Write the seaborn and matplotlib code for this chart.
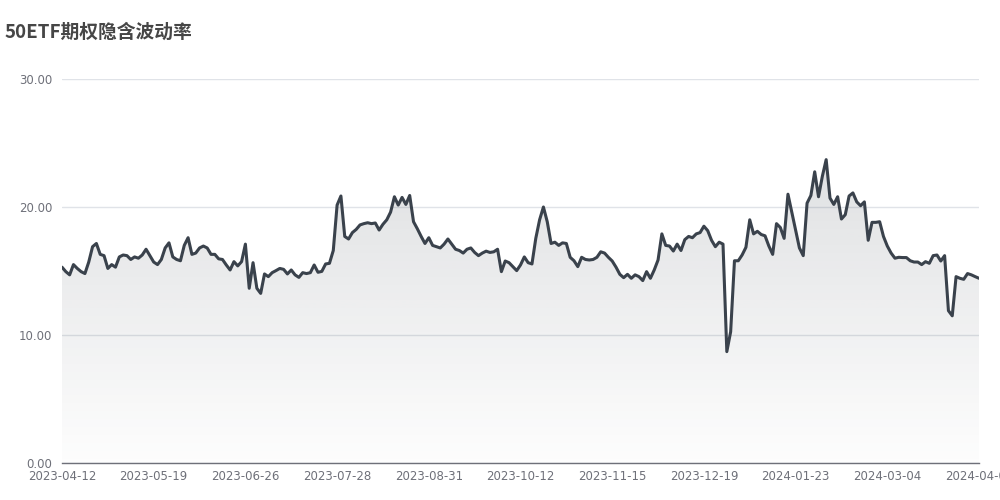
import numpy as np
import seaborn as sns
from matplotlib import pyplot as plt

# 50ETF 期权隐含波动率 (每个交易日一个点, 读自原图)
iv_values = [
    15.3, 14.95, 14.7, 15.5, 15.2, 14.95, 14.8, 15.7, 16.9, 17.15,
    16.3, 16.2, 15.2, 15.5, 15.3, 16.1, 16.25, 16.2, 15.9, 16.1,
    16.0, 16.25, 16.7, 16.2, 15.7, 15.5, 15.9, 16.8, 17.2, 16.1,
    15.9, 15.8, 17.0, 17.6, 16.3, 16.4, 16.8, 16.95, 16.8, 16.3,
    16.3, 15.95, 15.9, 15.47, 15.08, 15.73, 15.4, 15.73, 17.1, 13.65,
    15.65, 13.65, 13.25, 14.77, 14.56, 14.87, 15.03, 15.2, 15.13, 14.77,
    15.08, 14.7, 14.5, 14.87, 14.8, 14.87, 15.47, 14.9, 14.97, 15.55,
    15.6, 16.6, 20.15, 20.86, 17.7, 17.5, 18.0, 18.25, 18.6, 18.7,
    18.77, 18.7, 18.75, 18.2, 18.65, 19.0, 19.6, 20.8, 20.15, 20.75,
    20.2, 20.9, 18.85, 18.3, 17.7, 17.15, 17.6, 17.0, 16.9, 16.8,
    17.1, 17.5, 17.1, 16.7, 16.6, 16.4, 16.7, 16.8, 16.45, 16.2,
    16.4, 16.55, 16.45, 16.5, 16.7, 14.95, 15.78, 15.65, 15.34, 15.03,
    15.47, 16.1, 15.65, 15.55, 17.55, 19.0, 20.0, 18.85, 17.15, 17.25,
    17.0, 17.2, 17.15, 16.07, 15.8, 15.34, 16.07, 15.9, 15.86, 15.9,
    16.07, 16.5, 16.4, 16.07, 15.78, 15.3, 14.74, 14.48, 14.74, 14.43,
    14.7, 14.56, 14.25, 14.95, 14.43, 15.08, 15.86, 17.9, 17.0, 16.95,
    16.56, 17.1, 16.6, 17.45, 17.7, 17.6, 17.9, 18.0, 18.5, 18.15,
    17.4, 16.9, 17.25, 17.1, 8.7, 10.25, 15.8, 15.8, 16.25, 16.85,
    19.0, 17.9, 18.1, 17.85, 17.75, 16.95, 16.3, 18.7, 18.4, 17.55,
    21.0, 19.6, 18.2, 16.8, 16.2, 20.3, 20.9, 22.75, 20.8, 22.4,
    23.7, 20.7, 20.2, 20.8, 19.06, 19.4, 20.86, 21.1, 20.4, 20.1,
    20.4, 17.4, 18.8, 18.8, 18.85, 17.7, 16.95, 16.4, 16.0, 16.07,
    16.05, 16.05, 15.8, 15.7, 15.7, 15.5, 15.73, 15.6, 16.2, 16.25,
    15.78, 16.2, 11.9, 11.5, 14.56, 14.43, 14.35, 14.8, 14.7, 14.56,
    14.43,
]

# x 轴标签, 每 24 个交易日一个
date_labels = [
    "2023-04-12", "2023-05-19", "2023-06-26", "2023-07-28", "2023-08-31",
    "2023-10-12", "2023-11-15", "2023-12-19", "2024-01-23", "2024-03-04",
    "2024-04-08",
]
label_step = 24

y_ticks = [0, 10, 20, 30]

line_color = "#3a424c"
axis_color = "#6e7079"
grid_color = "#e0e3e8"

sns.set_theme(style="white")
plt.rcParams["font.family"] = ["DejaVu Sans", "Noto Sans CJK SC"]

fig = plt.figure(figsize=(10, 5), dpi=100)
ax = fig.add_axes([0.062, 0.074, 0.917, 0.768])

x = np.arange(len(iv_values))
y = np.array(iv_values)

# 渐变填充
grad = np.zeros((256, 1, 4))
grad[:, :, :3] = plt.matplotlib.colors.to_rgb(line_color)
grad[:, 0, 3] = np.linspace(0.16, 0.01, 256)
im = ax.imshow(grad, aspect="auto", origin="upper",
               extent=[x[0], x[-1], 0, y.max()], zorder=1)
poly = ax.fill_between(x, y, 0, color="none", lw=0)
im.set_clip_path(poly.get_paths()[0], transform=ax.transData)

sns.lineplot(x=x, y=y, ax=ax, color=line_color, linewidth=2.2, zorder=3)

ax.set_xlim(x[0], x[-1])
ax.set_ylim(0, 30)
ax.set_yticks(y_ticks)
ax.set_yticklabels([f"{v:.2f}" for v in y_ticks])
ax.set_xticks(x[::label_step])
ax.set_xticklabels(date_labels)
ax.yaxis.grid(True, color=grid_color, linewidth=1, zorder=0)
ax.set_axisbelow(True)

sns.despine(ax=ax, left=True)
ax.spines["bottom"].set_color(axis_color)
ax.spines["bottom"].set_linewidth(1)
ax.tick_params(axis="both", length=0, labelsize=8.5, labelcolor=axis_color)
ax.tick_params(axis="y", pad=7)
ax.tick_params(axis="x", pad=5)
ax.set_xlabel("")
ax.set_ylabel("")

fig.text(0.005, 1 - 32 / 500, "50ETF期权隐含波动率", ha="left", va="center",
         fontsize=13.5, fontweight="bold", color="#464646",
         family=["Noto Sans CJK SC", "DejaVu Sans"])

plt.savefig("out.png", dpi=100)
